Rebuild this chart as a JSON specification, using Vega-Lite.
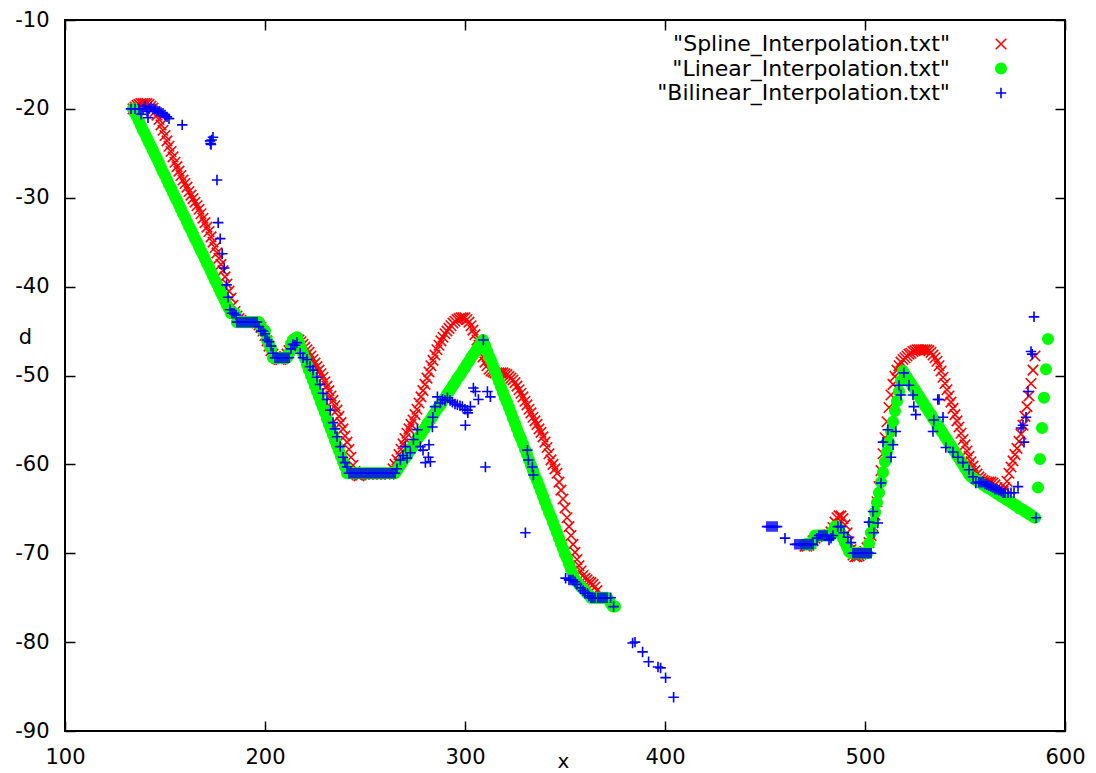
{
"$schema":"https://vega.github.io/schema/vega-lite/v6.json",
"width":1000,"height":711,
"autosize":{"type":"none"},
"padding":{"left":65,"top":20,"right":31,"bottom":42},
"background":"white",
"config":{"font":"DejaVu Sans","view":{"stroke":"black","strokeWidth":2},"axis":{"labelFont":"DejaVu Sans","titleFont":"DejaVu Sans"},"legend":{"labelFont":"DejaVu Sans"}},
"data":{"values":[
{"s":"S","x":134,"y":-20},{"s":"S","x":135,"y":-19.8},{"s":"S","x":136,"y":-19.6},{"s":"S","x":137,"y":-19.5},{"s":"S","x":138,"y":-19.4},{"s":"S","x":139,"y":-19.4},{"s":"S","x":140,"y":-19.4},{"s":"S","x":141,"y":-19.4},{"s":"S","x":142,"y":-19.5},{"s":"S","x":143,"y":-19.7},{"s":"S","x":144,"y":-19.9},{"s":"S","x":145,"y":-20.3},{"s":"S","x":146,"y":-20.7},{"s":"S","x":147,"y":-21.2},{"s":"S","x":148,"y":-21.8},{"s":"S","x":149,"y":-22.4},{"s":"S","x":150,"y":-23},{"s":"S","x":151,"y":-23.6},{"s":"S","x":152,"y":-24.2},{"s":"S","x":153,"y":-24.8},{"s":"S","x":154,"y":-25.4},{"s":"S","x":155,"y":-26},{"s":"S","x":156,"y":-26.5},{"s":"S","x":157,"y":-27},{"s":"S","x":158,"y":-27.5},{"s":"S","x":159,"y":-28},{"s":"S","x":160,"y":-28.4},{"s":"S","x":161,"y":-28.8},{"s":"S","x":162,"y":-29.3},{"s":"S","x":163,"y":-29.7},{"s":"S","x":164,"y":-30.1},{"s":"S","x":165,"y":-30.5},{"s":"S","x":166,"y":-30.9},{"s":"S","x":167,"y":-31.3},{"s":"S","x":168,"y":-31.8},{"s":"S","x":169,"y":-32.3},{"s":"S","x":170,"y":-32.8},{"s":"S","x":171,"y":-33.3},{"s":"S","x":172,"y":-33.8},{"s":"S","x":173,"y":-34.4},{"s":"S","x":174,"y":-35},{"s":"S","x":175,"y":-35.6},{"s":"S","x":176,"y":-36.2},{"s":"S","x":177,"y":-36.8},{"s":"S","x":178,"y":-37.5},{"s":"S","x":179,"y":-38.2},{"s":"S","x":180,"y":-38.9},{"s":"S","x":181,"y":-39.7},{"s":"S","x":182,"y":-40.5},{"s":"S","x":183,"y":-41.3},{"s":"S","x":184,"y":-42.1},{"s":"S","x":185,"y":-42.8},{"s":"S","x":186,"y":-43.3},{"s":"S","x":187,"y":-43.6},{"s":"S","x":188,"y":-43.8},{"s":"S","x":189,"y":-44},{"s":"S","x":190,"y":-44},{"s":"S","x":191,"y":-44},{"s":"S","x":192,"y":-44},{"s":"S","x":193,"y":-44},{"s":"S","x":194,"y":-44},{"s":"S","x":195,"y":-44},{"s":"S","x":196,"y":-44.1},{"s":"S","x":197,"y":-44.3},{"s":"S","x":198,"y":-44.6},{"s":"S","x":199,"y":-45},{"s":"S","x":200,"y":-45.5},{"s":"S","x":201,"y":-46.1},{"s":"S","x":202,"y":-46.7},{"s":"S","x":203,"y":-47.2},{"s":"S","x":204,"y":-47.6},{"s":"S","x":205,"y":-47.9},{"s":"S","x":206,"y":-48.1},{"s":"S","x":207,"y":-48.2},{"s":"S","x":208,"y":-48.2},{"s":"S","x":209,"y":-48.1},{"s":"S","x":210,"y":-47.9},{"s":"S","x":211,"y":-47.6},{"s":"S","x":212,"y":-47.2},{"s":"S","x":213,"y":-46.7},{"s":"S","x":214,"y":-46.3},{"s":"S","x":215,"y":-46},{"s":"S","x":216,"y":-45.9},{"s":"S","x":217,"y":-46},{"s":"S","x":218,"y":-46.2},{"s":"S","x":219,"y":-46.5},{"s":"S","x":220,"y":-46.8},{"s":"S","x":221,"y":-47.1},{"s":"S","x":222,"y":-47.4},{"s":"S","x":223,"y":-47.8},{"s":"S","x":224,"y":-48.2},{"s":"S","x":225,"y":-48.6},{"s":"S","x":226,"y":-49},{"s":"S","x":227,"y":-49.4},{"s":"S","x":228,"y":-49.8},{"s":"S","x":229,"y":-50.2},{"s":"S","x":230,"y":-50.7},{"s":"S","x":231,"y":-51.2},{"s":"S","x":232,"y":-51.7},{"s":"S","x":233,"y":-52.3},{"s":"S","x":234,"y":-52.8},{"s":"S","x":235,"y":-53.4},{"s":"S","x":236,"y":-53.9},{"s":"S","x":237,"y":-54.6},{"s":"S","x":238,"y":-55.3},{"s":"S","x":239,"y":-56},{"s":"S","x":240,"y":-56.8},{"s":"S","x":241,"y":-57.5},{"s":"S","x":242,"y":-58.3},{"s":"S","x":243,"y":-59.2},{"s":"S","x":244,"y":-60.1},{"s":"S","x":245,"y":-60.8},{"s":"S","x":246,"y":-61.2},{"s":"S","x":247,"y":-61.3},{"s":"S","x":248,"y":-61.2},{"s":"S","x":250,"y":-61.1},{"s":"S","x":252,"y":-61.1},{"s":"S","x":254,"y":-61.1},{"s":"S","x":256,"y":-61.1},{"s":"S","x":258,"y":-61.1},{"s":"S","x":260,"y":-61.1},{"s":"S","x":262,"y":-61.1},{"s":"S","x":263,"y":-61},{"s":"S","x":264,"y":-60.5},{"s":"S","x":265,"y":-60},{"s":"S","x":266,"y":-59.5},{"s":"S","x":267,"y":-58.9},{"s":"S","x":268,"y":-58.3},{"s":"S","x":269,"y":-57.7},{"s":"S","x":270,"y":-57.1},{"s":"S","x":271,"y":-56.5},{"s":"S","x":272,"y":-56},{"s":"S","x":273,"y":-55.5},{"s":"S","x":274,"y":-55},{"s":"S","x":275,"y":-54.4},{"s":"S","x":276,"y":-53.8},{"s":"S","x":277,"y":-53.1},{"s":"S","x":278,"y":-52.4},{"s":"S","x":279,"y":-51.7},{"s":"S","x":280,"y":-51},{"s":"S","x":281,"y":-50.3},{"s":"S","x":282,"y":-49.6},{"s":"S","x":283,"y":-48.9},{"s":"S","x":284,"y":-48.3},{"s":"S","x":285,"y":-47.7},{"s":"S","x":286,"y":-47.1},{"s":"S","x":287,"y":-46.6},{"s":"S","x":288,"y":-46.1},{"s":"S","x":289,"y":-45.7},{"s":"S","x":290,"y":-45.3},{"s":"S","x":291,"y":-45},{"s":"S","x":292,"y":-44.7},{"s":"S","x":293,"y":-44.4},{"s":"S","x":294,"y":-44.1},{"s":"S","x":295,"y":-43.9},{"s":"S","x":296,"y":-43.7},{"s":"S","x":297,"y":-43.6},{"s":"S","x":298,"y":-43.5},{"s":"S","x":299,"y":-43.5},{"s":"S","x":300,"y":-43.5},{"s":"S","x":301,"y":-43.7},{"s":"S","x":302,"y":-44},{"s":"S","x":303,"y":-44.4},{"s":"S","x":304,"y":-44.9},{"s":"S","x":305,"y":-45.4},{"s":"S","x":306,"y":-46},{"s":"S","x":307,"y":-46.6},{"s":"S","x":308,"y":-47.3},{"s":"S","x":309,"y":-47.9},{"s":"S","x":310,"y":-48.5},{"s":"S","x":311,"y":-48.9},{"s":"S","x":312,"y":-49.3},{"s":"S","x":313,"y":-49.5},{"s":"S","x":314,"y":-49.6},{"s":"S","x":315,"y":-49.7},{"s":"S","x":316,"y":-49.7},{"s":"S","x":317,"y":-49.7},{"s":"S","x":318,"y":-49.7},{"s":"S","x":319,"y":-49.7},{"s":"S","x":320,"y":-49.8},{"s":"S","x":321,"y":-49.9},{"s":"S","x":322,"y":-50.1},{"s":"S","x":323,"y":-50.3},{"s":"S","x":324,"y":-50.5},{"s":"S","x":325,"y":-50.8},{"s":"S","x":326,"y":-51.2},{"s":"S","x":327,"y":-51.6},{"s":"S","x":328,"y":-52},{"s":"S","x":329,"y":-52.4},{"s":"S","x":330,"y":-52.9},{"s":"S","x":331,"y":-53.3},{"s":"S","x":332,"y":-53.8},{"s":"S","x":333,"y":-54.2},{"s":"S","x":334,"y":-54.7},{"s":"S","x":335,"y":-55.1},{"s":"S","x":336,"y":-55.5},{"s":"S","x":337,"y":-56},{"s":"S","x":338,"y":-56.4},{"s":"S","x":339,"y":-56.9},{"s":"S","x":340,"y":-57.5},{"s":"S","x":341,"y":-58.1},{"s":"S","x":342,"y":-58.8},{"s":"S","x":343,"y":-59.5},{"s":"S","x":344,"y":-60},{"s":"S","x":345,"y":-60.5},{"s":"S","x":346,"y":-61},{"s":"S","x":347,"y":-62},{"s":"S","x":348,"y":-62.9},{"s":"S","x":349,"y":-63.9},{"s":"S","x":350,"y":-64.9},{"s":"S","x":351,"y":-66},{"s":"S","x":352,"y":-67},{"s":"S","x":353,"y":-68},{"s":"S","x":354,"y":-69},{"s":"S","x":355,"y":-69.9},{"s":"S","x":356,"y":-70.7},{"s":"S","x":357,"y":-71.4},{"s":"S","x":358,"y":-72},{"s":"S","x":359,"y":-72.5},{"s":"S","x":360,"y":-72.8},{"s":"S","x":361,"y":-73},{"s":"S","x":362,"y":-73.2},{"s":"S","x":363,"y":-73.3},{"s":"S","x":364,"y":-73.5},{"s":"S","x":365,"y":-73.8},{"s":"S","x":366,"y":-74.2},
{"s":"S","x":470,"y":-69.2},{"s":"S","x":471,"y":-69.2},{"s":"S","x":472,"y":-69.1},{"s":"S","x":473,"y":-68.9},{"s":"S","x":474,"y":-68.6},{"s":"S","x":475,"y":-68.3},{"s":"S","x":476,"y":-68.1},{"s":"S","x":477,"y":-68},{"s":"S","x":478,"y":-68},{"s":"S","x":479,"y":-68},{"s":"S","x":480,"y":-68},{"s":"S","x":481,"y":-68},{"s":"S","x":482,"y":-67.9},{"s":"S","x":483,"y":-67.6},{"s":"S","x":484,"y":-67.1},{"s":"S","x":485,"y":-66.5},{"s":"S","x":486,"y":-66},{"s":"S","x":487,"y":-65.8},{"s":"S","x":488,"y":-65.8},{"s":"S","x":489,"y":-66.1},{"s":"S","x":490,"y":-66.8},{"s":"S","x":491,"y":-67.7},{"s":"S","x":492,"y":-68.7},{"s":"S","x":493,"y":-69.6},{"s":"S","x":494,"y":-70.2},{"s":"S","x":495,"y":-70.4},{"s":"S","x":496,"y":-70.4},{"s":"S","x":497,"y":-70.3},{"s":"S","x":498,"y":-70.1},{"s":"S","x":499,"y":-70},{"s":"S","x":500,"y":-69.8},{"s":"S","x":501,"y":-69.4},{"s":"S","x":502,"y":-68.8},{"s":"S","x":503,"y":-68},{"s":"S","x":504,"y":-67},{"s":"S","x":505,"y":-65.7},{"s":"S","x":506,"y":-64.2},{"s":"S","x":507,"y":-62.5},{"s":"S","x":508,"y":-60.7},{"s":"S","x":509,"y":-58.8},{"s":"S","x":510,"y":-57},{"s":"S","x":511,"y":-55.2},{"s":"S","x":512,"y":-53.6},{"s":"S","x":513,"y":-52.2},{"s":"S","x":514,"y":-51},{"s":"S","x":515,"y":-50.1},{"s":"S","x":516,"y":-49.4},{"s":"S","x":517,"y":-48.9},{"s":"S","x":518,"y":-48.5},{"s":"S","x":519,"y":-48.2},{"s":"S","x":520,"y":-48},{"s":"S","x":521,"y":-47.8},{"s":"S","x":522,"y":-47.6},{"s":"S","x":523,"y":-47.5},{"s":"S","x":524,"y":-47.3},{"s":"S","x":525,"y":-47.2},{"s":"S","x":526,"y":-47.1},{"s":"S","x":527,"y":-47.1},{"s":"S","x":528,"y":-47.1},{"s":"S","x":529,"y":-47.1},{"s":"S","x":530,"y":-47.1},{"s":"S","x":531,"y":-47.1},{"s":"S","x":532,"y":-47.2},{"s":"S","x":533,"y":-47.4},{"s":"S","x":534,"y":-47.7},{"s":"S","x":535,"y":-48},{"s":"S","x":536,"y":-48.4},{"s":"S","x":537,"y":-48.9},{"s":"S","x":538,"y":-49.5},{"s":"S","x":539,"y":-50.2},{"s":"S","x":540,"y":-50.9},{"s":"S","x":541,"y":-51.6},{"s":"S","x":542,"y":-52.3},{"s":"S","x":543,"y":-53},{"s":"S","x":544,"y":-53.7},{"s":"S","x":545,"y":-54.4},{"s":"S","x":546,"y":-55.1},{"s":"S","x":547,"y":-55.8},{"s":"S","x":548,"y":-56.5},{"s":"S","x":549,"y":-57.2},{"s":"S","x":550,"y":-57.8},{"s":"S","x":551,"y":-58.5},{"s":"S","x":552,"y":-59.1},{"s":"S","x":553,"y":-59.7},{"s":"S","x":554,"y":-60.2},{"s":"S","x":555,"y":-60.7},{"s":"S","x":556,"y":-61.1},{"s":"S","x":557,"y":-61.4},{"s":"S","x":558,"y":-61.6},{"s":"S","x":559,"y":-61.8},{"s":"S","x":560,"y":-61.9},{"s":"S","x":561,"y":-62},{"s":"S","x":562,"y":-62},{"s":"S","x":563,"y":-62},{"s":"S","x":564,"y":-62.1},{"s":"S","x":565,"y":-62.3},{"s":"S","x":566,"y":-62.6},{"s":"S","x":567,"y":-62.9},{"s":"S","x":568,"y":-63.1},{"s":"S","x":569,"y":-63},{"s":"S","x":570,"y":-62.6},{"s":"S","x":571,"y":-61.9},{"s":"S","x":572,"y":-61},{"s":"S","x":573,"y":-60.3},{"s":"S","x":574,"y":-59.6},{"s":"S","x":575,"y":-58.9},{"s":"S","x":576,"y":-58.2},{"s":"S","x":577,"y":-57.4},{"s":"S","x":578,"y":-56.6},{"s":"S","x":579,"y":-55.6},{"s":"S","x":580,"y":-54.6},{"s":"S","x":581,"y":-53.5},{"s":"S","x":582,"y":-52.3},{"s":"S","x":583,"y":-50.9},{"s":"S","x":584,"y":-49.4},{"s":"S","x":585,"y":-47.8},
{"s":"L","x":134,"y":-20},{"s":"L","x":135,"y":-20.5},{"s":"L","x":136,"y":-20.9},{"s":"L","x":137,"y":-21.4},{"s":"L","x":138,"y":-21.9},{"s":"L","x":139,"y":-22.4},{"s":"L","x":140,"y":-22.8},{"s":"L","x":141,"y":-23.3},{"s":"L","x":142,"y":-23.8},{"s":"L","x":143,"y":-24.2},{"s":"L","x":144,"y":-24.7},{"s":"L","x":145,"y":-25.2},{"s":"L","x":146,"y":-25.6},{"s":"L","x":147,"y":-26.1},{"s":"L","x":148,"y":-26.6},{"s":"L","x":149,"y":-27.1},{"s":"L","x":150,"y":-27.5},{"s":"L","x":151,"y":-28},{"s":"L","x":152,"y":-28.5},{"s":"L","x":153,"y":-28.9},{"s":"L","x":154,"y":-29.4},{"s":"L","x":155,"y":-29.9},{"s":"L","x":156,"y":-30.3},{"s":"L","x":157,"y":-30.8},{"s":"L","x":158,"y":-31.3},{"s":"L","x":159,"y":-31.8},{"s":"L","x":160,"y":-32.2},{"s":"L","x":161,"y":-32.7},{"s":"L","x":162,"y":-33.2},{"s":"L","x":163,"y":-33.6},{"s":"L","x":164,"y":-34.1},{"s":"L","x":165,"y":-34.6},{"s":"L","x":166,"y":-35},{"s":"L","x":167,"y":-35.5},{"s":"L","x":168,"y":-36},{"s":"L","x":169,"y":-36.4},{"s":"L","x":170,"y":-36.9},{"s":"L","x":171,"y":-37.4},{"s":"L","x":172,"y":-37.8},{"s":"L","x":173,"y":-38.3},{"s":"L","x":174,"y":-38.8},{"s":"L","x":175,"y":-39.3},{"s":"L","x":176,"y":-39.7},{"s":"L","x":177,"y":-40.2},{"s":"L","x":178,"y":-40.7},{"s":"L","x":179,"y":-41.1},{"s":"L","x":180,"y":-41.6},{"s":"L","x":181,"y":-42.1},{"s":"L","x":182,"y":-42.5},{"s":"L","x":183,"y":-43},{"s":"L","x":184,"y":-43},{"s":"L","x":185,"y":-43},{"s":"L","x":186,"y":-44},{"s":"L","x":187,"y":-44},{"s":"L","x":188,"y":-44},{"s":"L","x":189,"y":-44},{"s":"L","x":190,"y":-44},{"s":"L","x":191,"y":-44},{"s":"L","x":192,"y":-44},{"s":"L","x":193,"y":-44},{"s":"L","x":194,"y":-44},{"s":"L","x":195,"y":-44},{"s":"L","x":196,"y":-44},{"s":"L","x":197,"y":-44},{"s":"L","x":198,"y":-44.5},{"s":"L","x":199,"y":-45},{"s":"L","x":200,"y":-45},{"s":"L","x":201,"y":-46},{"s":"L","x":202,"y":-46.5},{"s":"L","x":203,"y":-47},{"s":"L","x":204,"y":-48},{"s":"L","x":205,"y":-48},{"s":"L","x":206,"y":-48},{"s":"L","x":207,"y":-48},{"s":"L","x":208,"y":-48},{"s":"L","x":209,"y":-48},{"s":"L","x":210,"y":-48},{"s":"L","x":211,"y":-48},{"s":"L","x":212,"y":-47.5},{"s":"L","x":213,"y":-46.5},{"s":"L","x":214,"y":-46},{"s":"L","x":215,"y":-46},{"s":"L","x":216,"y":-45.7},{"s":"L","x":217,"y":-46.3},{"s":"L","x":218,"y":-46.9},{"s":"L","x":219,"y":-47.5},{"s":"L","x":220,"y":-48.1},{"s":"L","x":221,"y":-48.8},{"s":"L","x":222,"y":-49.4},{"s":"L","x":223,"y":-50},{"s":"L","x":224,"y":-50.6},{"s":"L","x":225,"y":-51.2},{"s":"L","x":226,"y":-51.8},{"s":"L","x":227,"y":-52.4},{"s":"L","x":228,"y":-53},{"s":"L","x":229,"y":-53.6},{"s":"L","x":230,"y":-54.2},{"s":"L","x":231,"y":-54.9},{"s":"L","x":232,"y":-55.5},{"s":"L","x":233,"y":-56.1},{"s":"L","x":234,"y":-56.7},{"s":"L","x":235,"y":-57.3},{"s":"L","x":236,"y":-57.9},{"s":"L","x":237,"y":-58.5},{"s":"L","x":238,"y":-59.1},{"s":"L","x":239,"y":-59.7},{"s":"L","x":240,"y":-60.3},{"s":"L","x":241,"y":-61},{"s":"L","x":242,"y":-61},{"s":"L","x":243,"y":-61},{"s":"L","x":244,"y":-61},{"s":"L","x":245,"y":-61},{"s":"L","x":246,"y":-61},{"s":"L","x":247,"y":-61},{"s":"L","x":248,"y":-61},{"s":"L","x":249,"y":-61},{"s":"L","x":250,"y":-61},{"s":"L","x":251,"y":-61},{"s":"L","x":252,"y":-61},{"s":"L","x":253,"y":-61},{"s":"L","x":254,"y":-61},{"s":"L","x":255,"y":-61},{"s":"L","x":256,"y":-61},{"s":"L","x":257,"y":-61},{"s":"L","x":258,"y":-61},{"s":"L","x":259,"y":-61},{"s":"L","x":260,"y":-61},{"s":"L","x":261,"y":-61},{"s":"L","x":262,"y":-61},{"s":"L","x":263,"y":-61},{"s":"L","x":264,"y":-61},{"s":"L","x":265,"y":-61},{"s":"L","x":266,"y":-60.7},{"s":"L","x":267,"y":-60.3},{"s":"L","x":268,"y":-60},{"s":"L","x":269,"y":-59.6},{"s":"L","x":270,"y":-59.3},{"s":"L","x":271,"y":-59},{"s":"L","x":272,"y":-58.6},{"s":"L","x":273,"y":-58.3},{"s":"L","x":274,"y":-57.9},{"s":"L","x":275,"y":-57.6},{"s":"L","x":276,"y":-57.2},{"s":"L","x":277,"y":-56.9},{"s":"L","x":278,"y":-56.6},{"s":"L","x":279,"y":-56.2},{"s":"L","x":280,"y":-55.9},{"s":"L","x":281,"y":-55.5},{"s":"L","x":282,"y":-55.2},{"s":"L","x":283,"y":-54.9},{"s":"L","x":284,"y":-54.5},{"s":"L","x":285,"y":-54.2},{"s":"L","x":286,"y":-53.8},{"s":"L","x":287,"y":-53.5},{"s":"L","x":288,"y":-53.2},{"s":"L","x":289,"y":-52.8},{"s":"L","x":290,"y":-52.5},{"s":"L","x":291,"y":-52.1},{"s":"L","x":292,"y":-51.8},{"s":"L","x":293,"y":-51.5},{"s":"L","x":294,"y":-51.1},{"s":"L","x":295,"y":-50.8},{"s":"L","x":296,"y":-50.4},{"s":"L","x":297,"y":-50.1},{"s":"L","x":298,"y":-49.8},{"s":"L","x":299,"y":-49.4},{"s":"L","x":300,"y":-49.1},{"s":"L","x":301,"y":-48.7},{"s":"L","x":302,"y":-48.4},{"s":"L","x":303,"y":-48},{"s":"L","x":304,"y":-47.7},{"s":"L","x":305,"y":-47.4},{"s":"L","x":306,"y":-47},{"s":"L","x":307,"y":-46.7},{"s":"L","x":308,"y":-46.3},{"s":"L","x":309,"y":-46},{"s":"L","x":310,"y":-46.6},{"s":"L","x":311,"y":-47.2},{"s":"L","x":312,"y":-47.8},{"s":"L","x":313,"y":-48.3},{"s":"L","x":314,"y":-48.9},{"s":"L","x":315,"y":-49.5},{"s":"L","x":316,"y":-50.1},{"s":"L","x":317,"y":-50.7},{"s":"L","x":318,"y":-51.3},{"s":"L","x":319,"y":-51.9},{"s":"L","x":320,"y":-52.5},{"s":"L","x":321,"y":-53},{"s":"L","x":322,"y":-53.6},{"s":"L","x":323,"y":-54.2},{"s":"L","x":324,"y":-54.8},{"s":"L","x":325,"y":-55.4},{"s":"L","x":326,"y":-56},{"s":"L","x":327,"y":-56.6},{"s":"L","x":328,"y":-57.1},{"s":"L","x":329,"y":-57.7},{"s":"L","x":330,"y":-58.3},{"s":"L","x":331,"y":-58.9},{"s":"L","x":332,"y":-59.5},{"s":"L","x":333,"y":-60.1},{"s":"L","x":334,"y":-60.7},{"s":"L","x":335,"y":-61.3},{"s":"L","x":336,"y":-61.8},{"s":"L","x":337,"y":-62.4},{"s":"L","x":338,"y":-63},{"s":"L","x":339,"y":-63.6},{"s":"L","x":340,"y":-64.2},{"s":"L","x":341,"y":-64.8},{"s":"L","x":342,"y":-65.4},{"s":"L","x":343,"y":-65.9},{"s":"L","x":344,"y":-66.5},{"s":"L","x":345,"y":-67.1},{"s":"L","x":346,"y":-67.7},{"s":"L","x":347,"y":-68.3},{"s":"L","x":348,"y":-68.9},{"s":"L","x":349,"y":-69.5},{"s":"L","x":350,"y":-70.1},{"s":"L","x":351,"y":-70.6},{"s":"L","x":352,"y":-71.2},{"s":"L","x":353,"y":-71.8},{"s":"L","x":354,"y":-72.4},{"s":"L","x":355,"y":-73},{"s":"L","x":356,"y":-73.2},{"s":"L","x":357,"y":-73.5},{"s":"L","x":358,"y":-73.8},{"s":"L","x":359,"y":-74},{"s":"L","x":360,"y":-74.2},{"s":"L","x":361,"y":-74.5},{"s":"L","x":362,"y":-74.7},{"s":"L","x":363,"y":-75},{"s":"L","x":364,"y":-75},{"s":"L","x":365,"y":-75},{"s":"L","x":366,"y":-75},{"s":"L","x":367,"y":-75},{"s":"L","x":368,"y":-75},{"s":"L","x":369,"y":-75},{"s":"L","x":370,"y":-75},{"s":"L","x":371,"y":-75},{"s":"L","x":372,"y":-75.3},{"s":"L","x":373,"y":-75.7},{"s":"L","x":374,"y":-76},{"s":"L","x":375,"y":-76},
{"s":"L","x":470,"y":-69},{"s":"L","x":471,"y":-69},{"s":"L","x":472,"y":-69},{"s":"L","x":473,"y":-69},{"s":"L","x":474,"y":-68.5},{"s":"L","x":475,"y":-68},{"s":"L","x":476,"y":-68},{"s":"L","x":477,"y":-68},{"s":"L","x":478,"y":-68},{"s":"L","x":479,"y":-68},{"s":"L","x":480,"y":-68},{"s":"L","x":481,"y":-68},{"s":"L","x":482,"y":-68},{"s":"L","x":483,"y":-68},{"s":"L","x":484,"y":-67.5},{"s":"L","x":485,"y":-67},{"s":"L","x":486,"y":-67},{"s":"L","x":487,"y":-67.3},{"s":"L","x":488,"y":-67.8},{"s":"L","x":489,"y":-68.3},{"s":"L","x":490,"y":-68.8},{"s":"L","x":491,"y":-69.3},{"s":"L","x":492,"y":-69.8},{"s":"L","x":493,"y":-70},{"s":"L","x":494,"y":-70},{"s":"L","x":495,"y":-70},{"s":"L","x":496,"y":-70},{"s":"L","x":497,"y":-70},{"s":"L","x":498,"y":-70},{"s":"L","x":499,"y":-70},{"s":"L","x":500,"y":-70},{"s":"L","x":501,"y":-70},{"s":"L","x":502,"y":-68.9},{"s":"L","x":503,"y":-67.7},{"s":"L","x":504,"y":-66.6},{"s":"L","x":505,"y":-65.4},{"s":"L","x":506,"y":-64.3},{"s":"L","x":507,"y":-63.2},{"s":"L","x":508,"y":-62},{"s":"L","x":509,"y":-60.9},{"s":"L","x":510,"y":-59.7},{"s":"L","x":511,"y":-58.6},{"s":"L","x":512,"y":-57.5},{"s":"L","x":513,"y":-56.3},{"s":"L","x":514,"y":-55.2},{"s":"L","x":515,"y":-54},{"s":"L","x":516,"y":-52.9},{"s":"L","x":517,"y":-51.8},{"s":"L","x":518,"y":-50.6},{"s":"L","x":519,"y":-49.5},{"s":"L","x":520,"y":-49.9},{"s":"L","x":521,"y":-50.2},{"s":"L","x":522,"y":-50.6},{"s":"L","x":523,"y":-50.9},{"s":"L","x":524,"y":-51.3},{"s":"L","x":525,"y":-51.6},{"s":"L","x":526,"y":-52},{"s":"L","x":527,"y":-52.3},{"s":"L","x":528,"y":-52.7},{"s":"L","x":529,"y":-53},{"s":"L","x":530,"y":-53.4},{"s":"L","x":531,"y":-53.7},{"s":"L","x":532,"y":-54.1},{"s":"L","x":533,"y":-54.4},{"s":"L","x":534,"y":-54.8},{"s":"L","x":535,"y":-55.1},{"s":"L","x":536,"y":-55.5},{"s":"L","x":537,"y":-55.8},{"s":"L","x":538,"y":-56.2},{"s":"L","x":539,"y":-56.5},{"s":"L","x":540,"y":-56.9},{"s":"L","x":541,"y":-57.2},{"s":"L","x":542,"y":-57.6},{"s":"L","x":543,"y":-57.9},{"s":"L","x":544,"y":-58.3},{"s":"L","x":545,"y":-58.6},{"s":"L","x":546,"y":-59},{"s":"L","x":547,"y":-59.3},{"s":"L","x":548,"y":-59.7},{"s":"L","x":549,"y":-60},{"s":"L","x":550,"y":-60.4},{"s":"L","x":551,"y":-60.7},{"s":"L","x":552,"y":-61.1},{"s":"L","x":553,"y":-61.4},{"s":"L","x":554,"y":-61.5},{"s":"L","x":555,"y":-61.7},{"s":"L","x":556,"y":-61.8},{"s":"L","x":557,"y":-62},{"s":"L","x":558,"y":-62.1},{"s":"L","x":559,"y":-62.3},{"s":"L","x":560,"y":-62.4},{"s":"L","x":561,"y":-62.6},{"s":"L","x":562,"y":-62.7},{"s":"L","x":563,"y":-62.8},{"s":"L","x":564,"y":-63},{"s":"L","x":565,"y":-63.1},{"s":"L","x":566,"y":-63.3},{"s":"L","x":567,"y":-63.4},{"s":"L","x":568,"y":-63.6},{"s":"L","x":569,"y":-63.7},{"s":"L","x":570,"y":-63.8},{"s":"L","x":571,"y":-64},{"s":"L","x":572,"y":-64.1},{"s":"L","x":573,"y":-64.3},{"s":"L","x":574,"y":-64.4},{"s":"L","x":575,"y":-64.6},{"s":"L","x":576,"y":-64.7},{"s":"L","x":577,"y":-64.9},{"s":"L","x":578,"y":-65},{"s":"L","x":579,"y":-65.1},{"s":"L","x":580,"y":-65.3},{"s":"L","x":581,"y":-65.4},{"s":"L","x":582,"y":-65.6},{"s":"L","x":583,"y":-65.7},{"s":"L","x":584,"y":-65.9},{"s":"L","x":585,"y":-66},{"s":"L","x":586.5,"y":-62.6},{"s":"L","x":587.5,"y":-59.4},{"s":"L","x":588.5,"y":-55.9},{"s":"L","x":589.5,"y":-52.5},{"s":"L","x":590.5,"y":-49.3},{"s":"L","x":591.5,"y":-45.9},
{"s":"B","x":133,"y":-20},{"s":"B","x":135,"y":-20},{"s":"B","x":137,"y":-20},{"s":"B","x":138,"y":-20.6},{"s":"B","x":139,"y":-20},{"s":"B","x":140,"y":-19.7},{"s":"B","x":141,"y":-20.3},{"s":"B","x":141.5,"y":-21},{"s":"B","x":142,"y":-20},{"s":"B","x":143,"y":-19.8},{"s":"B","x":144,"y":-20},{"s":"B","x":145,"y":-20},{"s":"B","x":146,"y":-20.2},{"s":"B","x":147,"y":-20.3},{"s":"B","x":148,"y":-20.4},{"s":"B","x":149,"y":-20.5},{"s":"B","x":150,"y":-20.7},{"s":"B","x":151,"y":-20.9},{"s":"B","x":152,"y":-21.1},{"s":"B","x":158.6,"y":-21.8},{"s":"B","x":172.5,"y":-23.6},{"s":"B","x":172.8,"y":-23.9},{"s":"B","x":173,"y":-24},{"s":"B","x":173.3,"y":-23.5},{"s":"B","x":174,"y":-23.2},{"s":"B","x":176,"y":-28},{"s":"B","x":176.6,"y":-32.8},{"s":"B","x":177.6,"y":-34.6},{"s":"B","x":178.6,"y":-36.3},{"s":"B","x":179.6,"y":-37.9},{"s":"B","x":180.8,"y":-39.8},{"s":"B","x":181.5,"y":-41.2},{"s":"B","x":182.5,"y":-42.6},{"s":"B","x":183.5,"y":-43},{"s":"B","x":184.5,"y":-43},{"s":"B","x":185.5,"y":-43.2},{"s":"B","x":186,"y":-44},{"s":"B","x":187,"y":-44},{"s":"B","x":188,"y":-44},{"s":"B","x":189,"y":-44},{"s":"B","x":190,"y":-44},{"s":"B","x":191,"y":-44},{"s":"B","x":192,"y":-44},{"s":"B","x":193,"y":-44},{"s":"B","x":194,"y":-44},{"s":"B","x":195,"y":-44},{"s":"B","x":196,"y":-44},{"s":"B","x":197,"y":-44.5},{"s":"B","x":198,"y":-45},{"s":"B","x":199,"y":-45},{"s":"B","x":200,"y":-45.3},{"s":"B","x":201,"y":-46},{"s":"B","x":202,"y":-46.2},{"s":"B","x":203,"y":-46.7},{"s":"B","x":204,"y":-47.5},{"s":"B","x":205,"y":-48},{"s":"B","x":206,"y":-48},{"s":"B","x":207,"y":-48},{"s":"B","x":208,"y":-48},{"s":"B","x":209,"y":-48},{"s":"B","x":210,"y":-48},{"s":"B","x":211,"y":-48},{"s":"B","x":212,"y":-48},{"s":"B","x":213,"y":-47},{"s":"B","x":214,"y":-46.5},{"s":"B","x":215,"y":-46.6},{"s":"B","x":216,"y":-46.3},{"s":"B","x":217.6,"y":-47.5},{"s":"B","x":219,"y":-48},{"s":"B","x":221,"y":-48.2},{"s":"B","x":222.5,"y":-49},{"s":"B","x":224,"y":-49.4},{"s":"B","x":226,"y":-50.2},{"s":"B","x":227.5,"y":-51},{"s":"B","x":229,"y":-52},{"s":"B","x":231,"y":-52.7},{"s":"B","x":232.6,"y":-53.9},{"s":"B","x":234,"y":-55.3},{"s":"B","x":235,"y":-56},{"s":"B","x":236,"y":-56.9},{"s":"B","x":237.6,"y":-58},{"s":"B","x":239,"y":-59.2},{"s":"B","x":240,"y":-59.8},{"s":"B","x":241,"y":-60.3},{"s":"B","x":242,"y":-61},{"s":"B","x":243,"y":-61},{"s":"B","x":244,"y":-61},{"s":"B","x":245,"y":-61},{"s":"B","x":246,"y":-61},{"s":"B","x":247,"y":-61},{"s":"B","x":248,"y":-61},{"s":"B","x":249,"y":-61},{"s":"B","x":250,"y":-61},{"s":"B","x":251,"y":-61},{"s":"B","x":252,"y":-61},{"s":"B","x":253,"y":-61},{"s":"B","x":254,"y":-61},{"s":"B","x":255,"y":-61},{"s":"B","x":256,"y":-61},{"s":"B","x":257,"y":-61},{"s":"B","x":258,"y":-61},{"s":"B","x":259,"y":-61},{"s":"B","x":260,"y":-61},{"s":"B","x":261,"y":-61},{"s":"B","x":262,"y":-61},{"s":"B","x":263,"y":-61},{"s":"B","x":264,"y":-61},{"s":"B","x":265,"y":-61},{"s":"B","x":266,"y":-60.5},{"s":"B","x":267.7,"y":-59.5},{"s":"B","x":269,"y":-59},{"s":"B","x":270.2,"y":-58},{"s":"B","x":271,"y":-59.3},{"s":"B","x":272.7,"y":-58.7},{"s":"B","x":274.2,"y":-57.2},{"s":"B","x":276.2,"y":-56.1},{"s":"B","x":277.7,"y":-58},{"s":"B","x":279,"y":-58.4},{"s":"B","x":280.2,"y":-59.8},{"s":"B","x":281.7,"y":-59.2},{"s":"B","x":282,"y":-57.8},{"s":"B","x":282.7,"y":-59.7},{"s":"B","x":283.7,"y":-55.8},{"s":"B","x":283.9,"y":-54.7},{"s":"B","x":285,"y":-53.5},{"s":"B","x":286.2,"y":-52.4},{"s":"B","x":287.7,"y":-53.1},{"s":"B","x":288.7,"y":-52.7},{"s":"B","x":290,"y":-52.8},{"s":"B","x":291.2,"y":-52.5},{"s":"B","x":292.5,"y":-52.8},{"s":"B","x":293.7,"y":-53},{"s":"B","x":295,"y":-53.2},{"s":"B","x":296.2,"y":-53.3},{"s":"B","x":297.5,"y":-53.4},{"s":"B","x":298.7,"y":-53.5},{"s":"B","x":300,"y":-53.8},{"s":"B","x":300.2,"y":-55.6},{"s":"B","x":301.2,"y":-53.9},{"s":"B","x":301.4,"y":-54.2},{"s":"B","x":302.7,"y":-53.5},{"s":"B","x":304.2,"y":-51.4},{"s":"B","x":305.2,"y":-51.8},{"s":"B","x":306.7,"y":-52.7},{"s":"B","x":309.2,"y":-46},{"s":"B","x":310.2,"y":-60.3},{"s":"B","x":311.2,"y":-51.8},{"s":"B","x":312.7,"y":-52.4},{"s":"B","x":330.2,"y":-67.7},{"s":"B","x":331.2,"y":-58.4},{"s":"B","x":331.7,"y":-59.5},{"s":"B","x":333.7,"y":-60.3},{"s":"B","x":334.2,"y":-61.2},{"s":"B","x":350.3,"y":-72.8},{"s":"B","x":352,"y":-73},{"s":"B","x":353,"y":-73},{"s":"B","x":354,"y":-73},{"s":"B","x":355,"y":-73.2},{"s":"B","x":356,"y":-73.5},{"s":"B","x":357.8,"y":-73.9},{"s":"B","x":359,"y":-74.2},{"s":"B","x":360,"y":-74.5},{"s":"B","x":361.3,"y":-74.5},{"s":"B","x":362,"y":-74.8},{"s":"B","x":363,"y":-75},{"s":"B","x":364,"y":-75},{"s":"B","x":365,"y":-75},{"s":"B","x":366.3,"y":-75},{"s":"B","x":367,"y":-75},{"s":"B","x":368,"y":-75},{"s":"B","x":369,"y":-75},{"s":"B","x":370,"y":-75},{"s":"B","x":371,"y":-75},{"s":"B","x":372.8,"y":-75},{"s":"B","x":374.3,"y":-76},{"s":"B","x":383.8,"y":-80.1},{"s":"B","x":385,"y":-80},{"s":"B","x":388.8,"y":-81.1},{"s":"B","x":391.8,"y":-82.2},{"s":"B","x":396.5,"y":-82.8},{"s":"B","x":397.8,"y":-82.9},{"s":"B","x":400.3,"y":-84},{"s":"B","x":404.3,"y":-86.2},
{"s":"B","x":451,"y":-67},{"s":"B","x":452,"y":-67},{"s":"B","x":453,"y":-67},{"s":"B","x":454,"y":-67},{"s":"B","x":455,"y":-67},{"s":"B","x":456,"y":-67},{"s":"B","x":460,"y":-68.3},{"s":"B","x":465,"y":-69},{"s":"B","x":466,"y":-69},{"s":"B","x":467,"y":-69},{"s":"B","x":468,"y":-69},{"s":"B","x":469,"y":-69},{"s":"B","x":470,"y":-69},{"s":"B","x":471,"y":-69},{"s":"B","x":472,"y":-69},{"s":"B","x":473,"y":-69},{"s":"B","x":474,"y":-69},{"s":"B","x":476,"y":-68.3},{"s":"B","x":477,"y":-68},{"s":"B","x":478,"y":-68},{"s":"B","x":479,"y":-68},{"s":"B","x":480,"y":-68},{"s":"B","x":481,"y":-68},{"s":"B","x":482,"y":-68.5},{"s":"B","x":483,"y":-68.3},{"s":"B","x":484,"y":-68},{"s":"B","x":486.4,"y":-67},{"s":"B","x":488,"y":-67},{"s":"B","x":489.4,"y":-67.7},{"s":"B","x":491.4,"y":-68.2},{"s":"B","x":493,"y":-68.8},{"s":"B","x":494,"y":-70},{"s":"B","x":495,"y":-70},{"s":"B","x":496,"y":-70},{"s":"B","x":497,"y":-70},{"s":"B","x":498,"y":-70},{"s":"B","x":499,"y":-70},{"s":"B","x":500,"y":-70},{"s":"B","x":501,"y":-70},{"s":"B","x":502,"y":-70},{"s":"B","x":503,"y":-70},{"s":"B","x":502,"y":-66.5},{"s":"B","x":504,"y":-65.3},{"s":"B","x":504.4,"y":-67.7},{"s":"B","x":506.4,"y":-66.6},{"s":"B","x":508,"y":-62.1},{"s":"B","x":509,"y":-57.5},{"s":"B","x":511.4,"y":-56.1},{"s":"B","x":513,"y":-59.2},{"s":"B","x":514,"y":-57.8},{"s":"B","x":515.4,"y":-56.3},{"s":"B","x":517,"y":-51.1},{"s":"B","x":518,"y":-52.2},{"s":"B","x":519.4,"y":-49.7},{"s":"B","x":522,"y":-51.1},{"s":"B","x":524,"y":-52.2},{"s":"B","x":524.4,"y":-53.5},{"s":"B","x":525.4,"y":-54.4},{"s":"B","x":534,"y":-56.3},{"s":"B","x":534.4,"y":-55},{"s":"B","x":536.4,"y":-52.7},{"s":"B","x":537,"y":-52.7},{"s":"B","x":539,"y":-54.7},{"s":"B","x":540.4,"y":-58.1},{"s":"B","x":544,"y":-58.6},{"s":"B","x":546.4,"y":-59.2},{"s":"B","x":549,"y":-59.8},{"s":"B","x":552,"y":-60.6},{"s":"B","x":554,"y":-61.4},{"s":"B","x":555.4,"y":-62.1},{"s":"B","x":557,"y":-62},{"s":"B","x":558,"y":-62},{"s":"B","x":559,"y":-62},{"s":"B","x":560,"y":-62.2},{"s":"B","x":561,"y":-62.3},{"s":"B","x":562,"y":-62.4},{"s":"B","x":563,"y":-62.5},{"s":"B","x":564,"y":-62.6},{"s":"B","x":565,"y":-62.8},{"s":"B","x":566,"y":-62.8},{"s":"B","x":567,"y":-62.9},{"s":"B","x":568,"y":-63},{"s":"B","x":569,"y":-63.2},{"s":"B","x":570,"y":-63.2},{"s":"B","x":571.5,"y":-63.2},{"s":"B","x":573,"y":-63.2},{"s":"B","x":574.5,"y":-63.2},{"s":"B","x":576.5,"y":-62.5},{"s":"B","x":578,"y":-55.9},{"s":"B","x":579,"y":-55.6},{"s":"B","x":579.5,"y":-57.5},{"s":"B","x":580.5,"y":-54.7},{"s":"B","x":581.5,"y":-51.8},{"s":"B","x":583,"y":-47.3},{"s":"B","x":583.6,"y":-47.6},{"s":"B","x":584.5,"y":-43.4},{"s":"B","x":585.5,"y":-66}
]},
"layer":[
{"mark":{"type":"point","filled":true,"size":110,"strokeWidth":1.6,"opacity":1},
 "encoding":{
  "x":{"field":"x","type":"quantitative","scale":{"domain":[100,600],"nice":false,"zero":false},
   "axis":{"orient":"bottom","values":[100,200,300,400,500,600],"labelExpr":"'' + datum.value","labelFlush":false,"labelOverlap":false,"domain":false,"grid":false,"tickSize":-10,"tickWidth":1.5,"tickColor":"black","labelFontSize":21,"labelColor":"black","labelPadding":25,"title":"x","titleFontSize":20,"titleFontWeight":"normal","titleColor":"black","titleX":498,"titleY":36,"titleBaseline":"alphabetic"}},
  "y":{"field":"y","type":"quantitative","scale":{"domain":[-90,-10],"nice":false,"zero":false},
   "axis":{"orient":"left","values":[-90,-80,-70,-60,-50,-40,-30,-20,-10],"labelExpr":"'' + datum.value","labelFlush":false,"labelOverlap":false,"domain":false,"grid":false,"tickSize":-10,"tickWidth":1.5,"tickColor":"black","labelFontSize":21,"labelColor":"black","labelPadding":26,"title":"d","titleFontSize":21,"titleFontWeight":"normal","titleColor":"black","titleAngle":0,"titleX":-40,"titleY":317,"titleAlign":"center","titleBaseline":"middle"}},
  "fill":{"field":"s","type":"nominal","scale":{"domain":["S","L","B"],"range":["#ff0000","#00ff00","#0000ff"]},"legend":null},
  "stroke":{"field":"s","type":"nominal","scale":{"domain":["S","L","B"],"range":["#ff0000","#00ff00","#0000ff"]},"legend":null},
  "shape":{"field":"s","type":"nominal","scale":{"domain":["S","L","B"],"range":["M-1,-1L1,1M-1,1L1,-1","circle","M-1,0L1,0M0,-1L0,1"]},
   "legend":{"title":null,"orient":"none","legendX":925,"legendY":13,"padding":0,"labelAlign":"right","labelOffset":-62,"labelFontSize":22,"labelColor":"black","labelLimit":500,"rowPadding":2.5,"symbolSize":110,"symbolStrokeWidth":1.6,"symbolType":"circle",
    "labelExpr":"datum.label == 'S' ? '\"Spline_Interpolation.txt\"' : datum.label == 'L' ? '\"Linear_Interpolation.txt\"' : '\"Bilinear_Interpolation.txt\"'"}}
 }},
{"mark":{"type":"point","opacity":0},
 "encoding":{
  "x":{"field":"x","type":"quantitative","scale":{"domain":[100,600],"nice":false,"zero":false},
   "axis":{"orient":"top","values":[100,200,300,400,500,600],"labels":false,"domain":false,"grid":false,"tickSize":-10,"tickWidth":1.5,"tickColor":"black","title":null}},
  "y":{"field":"y","type":"quantitative","scale":{"domain":[-90,-10],"nice":false,"zero":false},
   "axis":{"orient":"right","values":[-90,-80,-70,-60,-50,-40,-30,-20,-10],"labels":false,"domain":false,"grid":false,"tickSize":-10,"tickWidth":1.5,"tickColor":"black","title":null}}
 }}
],
"resolve":{"axis":{"x":"independent","y":"independent"}}
}
